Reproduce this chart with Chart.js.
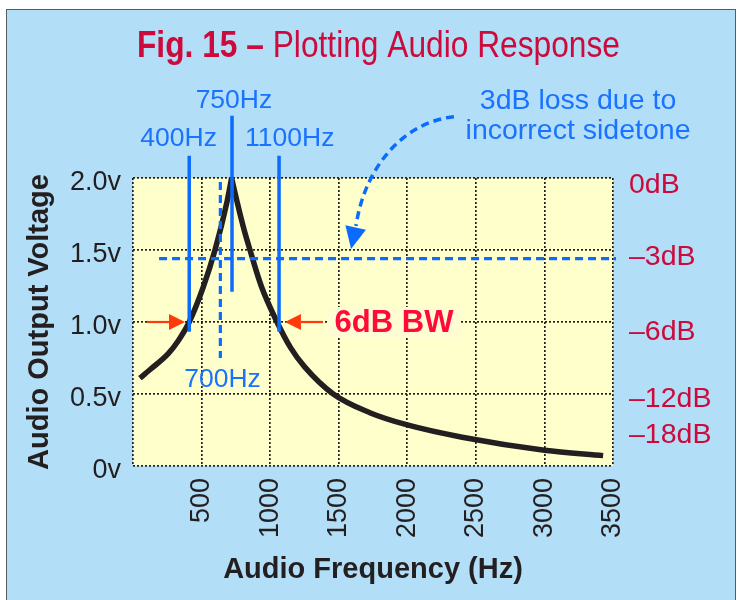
<!DOCTYPE html>
<html>
<head>
<meta charset="utf-8">
<script src="https://cdn.jsdelivr.net/npm/chart.js@4.4.1/dist/chart.umd.min.js"></script>
<style>
html,body{margin:0;padding:0;background:#ffffff;}
#wrap{width:739px;height:600px;position:relative;}
canvas{display:block;}
</style>
</head>
<body>
<div id="wrap"><canvas id="c" width="739" height="600"></canvas></div>
<script>
// ---------- data ----------
const leftFreq  = [50, 125, 257, 330, 410, 513, 598, 683, 719];
const leftVolt  = [0.61, 0.67, 0.78, 0.87, 1.0, 1.245, 1.5, 1.824, 2.0];
const rightFreq = [719, 760, 810, 853, 935, 1050, 1150, 1250, 1460, 1727, 2000, 2400, 3000, 3428];
const rightVolt = [2.0, 1.83, 1.64, 1.5, 1.25, 1.0, 0.82, 0.69, 0.5, 0.37, 0.285, 0.2, 0.11, 0.072];

const xTickValues = [0, 500, 1000, 1500, 2000, 2500, 3000, 3500];
const xTickLabels = ['', '500', '1000', '1500', '2000', '2500', '3000', '3500'];
const yTickValues = [0, 0.5, 1.0, 1.5, 2.0];
const yTickLabels = ['0v', '0.5v', '1.0v', '1.5v', '2.0v'];
const dbTickValues = [2.0, 1.5, 0.98, 0.51, 0.26];
const dbTickLabels = ['0dB', '\u20133dB', '\u20136dB', '\u201312dB', '\u201318dB'];

const markerFreqs  = [410, 722, 1065];
const markerLabels = ['400Hz', '750Hz', '1100Hz'];
const sidetoneFreq  = 637;
const sidetoneLabel = '700Hz';
const lossLevel = 1.44;
const bwLevel   = 1.0;

const titleBold    = 'Fig. 15 \u2013 ';
const titleRegular = 'Plotting Audio Response';
const xTitle = 'Audio Frequency (Hz)';
const yTitle = 'Audio Output Voltage';
const lossNote = ['3dB loss due to', 'incorrect sidetone'];
const bwNote = '6dB BW';

// ---------- layout / style (positions in data units) ----------
const markerSpan = [[2.155, 0.933], [2.433, 1.21], [2.155, 0.933]];
const markerLabelPos = [[333, 2.27], [736, 2.535], [1143, 2.27]];
const sidetoneSpan = [1.972, 0.75];
const sidetoneLabelPos = [653, 0.597];
const lossSpan = [190, 3522];
const lossNotePos = [[3245, 2.535], [3245, 2.326]];
const bwNotePos = [1903, 1.0];
const bwArrows = [[102, 379], [1385, 1108]]; // [tail, tip]
const lossArrow = {p0:[2340,2.426], c1:[1983,2.389], c2:[1692,2.09], p3:[1626,1.667], tip:[1590,1.507]};

const BLUE = '#0a6cff';
const BLUE_TXT = '#1a73ff';
const CRIMSON = '#cc0a3c';
const RED = '#ff0a3a';
const ORANGE = '#ff3a0a';
const INK = '#231f20';
const FONT = "'Liberation Sans', Arial, Helvetica, sans-serif";

Chart.defaults.font.family = FONT;
Chart.defaults.color = INK;

const datasets = [];
markerFreqs.forEach((f, i) => {
  datasets.push({
    data: [{x: f, y: markerSpan[i][0]}, {x: f, y: markerSpan[i][1]}],
    borderColor: BLUE, borderWidth: 3.5, pointRadius: 0, clip: false, order: 1, tension: 0
  });
});
datasets.push({
  data: [{x: sidetoneFreq, y: sidetoneSpan[0]}, {x: sidetoneFreq, y: sidetoneSpan[1]}],
  borderColor: BLUE, borderWidth: 3.2, borderDash: [8, 5], pointRadius: 0, clip: false, order: 1
});
datasets.push({
  data: [{x: lossSpan[0], y: lossLevel}, {x: lossSpan[1], y: lossLevel}],
  borderColor: BLUE, borderWidth: 3.2, borderDash: [8, 5], pointRadius: 0, clip: false, order: 1
});
datasets.push({
  data: leftFreq.map((f, i) => ({x: f, y: leftVolt[i]})),
  borderColor: INK, borderWidth: 5.5, pointRadius: 0, cubicInterpolationMode: 'monotone', order: 2, clip: 4
});
datasets.push({
  data: rightFreq.map((f, i) => ({x: f, y: rightVolt[i]})),
  borderColor: INK, borderWidth: 5.5, pointRadius: 0, cubicInterpolationMode: 'monotone', order: 2, clip: 4
});

function P(chart, pt) {
  return [chart.scales.x.getPixelForValue(pt[0]), chart.scales.y.getPixelForValue(pt[1])];
}

function arrowHead(ctx, tail, tip, len, half) {
  const dx = tip[0] - tail[0], dy = tip[1] - tail[1];
  const L = Math.hypot(dx, dy), ux = dx / L, uy = dy / L;
  const bx = tip[0] - ux * len, by = tip[1] - uy * len;
  ctx.beginPath();
  ctx.moveTo(tip[0], tip[1]);
  ctx.lineTo(bx - uy * half, by + ux * half);
  ctx.lineTo(bx + uy * half, by - ux * half);
  ctx.closePath();
  ctx.fill();
  return [bx, by];
}

const decor = {
  id: 'decor',
  beforeDraw(chart) {
    const {ctx, chartArea: a} = chart;
    ctx.save();
    ctx.fillStyle = '#ffffff';
    ctx.fillRect(0, 0, chart.width, chart.height);
    ctx.fillStyle = '#b3def7';
    ctx.fillRect(6.5, 9.5, 729, 600);
    ctx.strokeStyle = '#5a5b5d';
    ctx.lineWidth = 1;
    ctx.strokeRect(6.5, 9.5, 729, 600);
    ctx.fillStyle = '#ffffcc';
    ctx.fillRect(a.left, a.top, a.right - a.left, a.bottom - a.top);
    ctx.restore();
  },
  afterDatasetsDraw(chart) {
    const ctx = chart.ctx;
    ctx.save();
    ctx.fillStyle = BLUE_TXT;
    ctx.textAlign = 'center';
    ctx.textBaseline = 'middle';
    ctx.font = '26.5px ' + FONT;
    markerLabels.forEach((t, i) => {
      const p = P(chart, markerLabelPos[i]);
      ctx.fillText(t, p[0], p[1]);
    });
    const sp = P(chart, sidetoneLabelPos);
    ctx.fillText(sidetoneLabel, sp[0], sp[1]);
    ctx.font = '28.5px ' + FONT;
    lossNote.forEach((t, i) => {
      const p = P(chart, lossNotePos[i]);
      ctx.fillText(t, p[0], p[1]);
    });
    const a = lossArrow;
    const p0 = P(chart, a.p0), c1 = P(chart, a.c1), c2 = P(chart, a.c2), p3 = P(chart, a.p3), tip = P(chart, a.tip);
    ctx.strokeStyle = BLUE;
    ctx.lineWidth = 3.5;
    ctx.setLineDash([8, 5]);
    ctx.beginPath();
    ctx.moveTo(p0[0], p0[1]);
    ctx.bezierCurveTo(c1[0], c1[1], c2[0], c2[1], p3[0], p3[1]);
    ctx.stroke();
    ctx.setLineDash([]);
    ctx.fillStyle = BLUE;
    arrowHead(ctx, p3, tip, 22, 10.5);
    const bp = P(chart, bwNotePos);
    ctx.fillStyle = '#fffbd2';
    ctx.fillRect(bp[0] - 67, bp[1] - 15, 134, 30);
    ctx.fillStyle = RED;
    ctx.font = 'bold 31px ' + FONT;
    ctx.fillText(bwNote, bp[0], bp[1] + 1);
    ctx.strokeStyle = ORANGE;
    ctx.fillStyle = ORANGE;
    ctx.lineWidth = 2.2;
    bwArrows.forEach(ar => {
      const t0 = P(chart, [ar[0], bwLevel]), t1 = P(chart, [ar[1], bwLevel]);
      const base = arrowHead(ctx, t0, t1, 16, 8);
      ctx.beginPath();
      ctx.moveTo(t0[0], t0[1]);
      ctx.lineTo(base[0], base[1]);
      ctx.stroke();
    });
    ctx.restore();
  },
  afterDraw(chart) {
    const ctx = chart.ctx;
    ctx.save();
    ctx.fillStyle = CRIMSON;
    ctx.textBaseline = 'alphabetic';
    ctx.textAlign = 'left';
    const fb = "bold 36px 'Liberation Sans Narrow', " + FONT;
    const fr = "36px 'Liberation Sans Narrow', " + FONT;
    ctx.font = fb; const w1 = ctx.measureText(titleBold).width;
    ctx.font = fr; const w2 = ctx.measureText(titleRegular).width;
    const target = 483, cx = 378.5, base = 57;
    const sx = target / (w1 + w2);
    ctx.translate(cx - target / 2, base);
    ctx.scale(sx, 1);
    ctx.font = fb; ctx.fillText(titleBold, 0, 0);
    ctx.font = fr; ctx.fillText(titleRegular, w1, 0);
    ctx.restore();
  }
};

const gridStyle = {color: INK, lineWidth: 1.7, drawTicks: false};
const borderStyle = {display: false, dash: [2, 2]};

new Chart(document.getElementById('c'), {
  type: 'line',
  data: {datasets},
  plugins: [decor],
  options: {
    responsive: false,
    animation: false,
    events: [],
    layout: {padding: {top: 178, left: 0, right: 0, bottom: 0}},
    plugins: {legend: {display: false}, tooltip: {enabled: false}, title: {display: false}},
    scales: {
      x: {
        type: 'linear', min: 0, max: 3500,
        afterBuildTicks: s => { s.ticks = xTickValues.map(v => ({value: v})); },
        afterFit: s => { s.height = 134; },
        grid: gridStyle, border: borderStyle,
        ticks: {
          autoSkip: false, minRotation: 90, maxRotation: 90, padding: 12,
          font: {size: 27}, color: INK,
          callback: (v, i) => xTickLabels[i]
        },
        title: {display: true, text: xTitle, font: {size: 29, weight: 'bold'}, color: INK, padding: {top: 0, bottom: 13}}
      },
      y: {
        type: 'linear', position: 'left', min: 0, max: 2,
        afterBuildTicks: s => { s.ticks = yTickValues.map(v => ({value: v})); },
        afterFit: s => { s.width = 133; },
        grid: gridStyle, border: borderStyle,
        ticks: {padding: 12, font: {size: 27}, color: INK, labelOffset: 5, callback: (v, i) => yTickLabels[i]},
        title: {display: true, text: yTitle, font: {size: 29, weight: 'bold'}, color: INK, padding: {top: 23, bottom: 0}}
      },
      y2: {
        type: 'linear', position: 'right', min: 0, max: 2,
        afterBuildTicks: s => { s.ticks = dbTickValues.map(v => ({value: v})); },
        afterFit: s => { s.width = 126; },
        grid: {display: false, drawTicks: false}, border: {display: false},
        ticks: {padding: 16, font: {size: 28.5}, color: CRIMSON, labelOffset: 7, callback: (v, i) => dbTickLabels[i]}
      }
    }
  }
});
</script>
</body>
</html>
